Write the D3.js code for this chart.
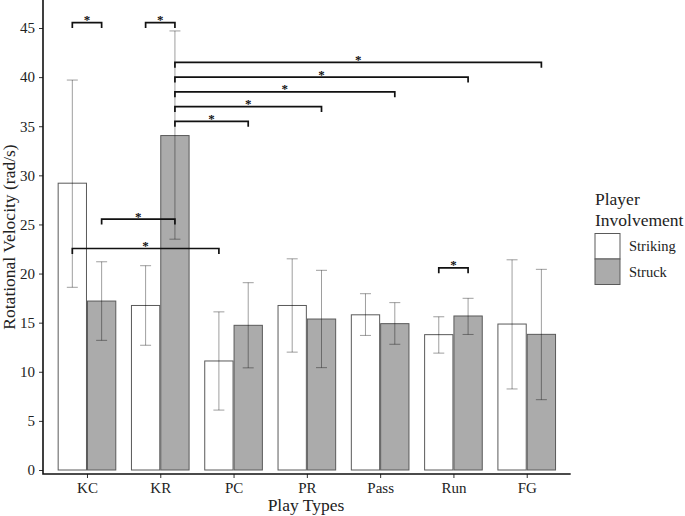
<!DOCTYPE html>
<html><head><meta charset="utf-8">
<script src="https://cdn.jsdelivr.net/npm/d3@7"></script>
<style>body{margin:0;background:#fff}svg{display:block}text{font-family:"Liberation Serif","Times New Roman",serif;fill:#222}</style>
</head><body><svg id="c" width="685" height="516"></svg>
<script>
const categories = ["KC","KR","PC","PR","Pass","Run","FG"];
const groups = ["Striking","Struck"];
const striking = [29.2, 16.75, 11.1, 16.75, 15.8, 13.78, 14.86];
const strikingLo = [18.6, 12.7, 6.1, 12.0, 13.7, 11.9, 8.25];
const strikingHi = [39.7, 20.8, 16.1, 21.5, 17.95, 15.6, 21.4];
const struck = [17.2, 34.05, 14.73, 15.37, 14.9, 15.68, 13.81];
const struckLo = [13.2, 23.5, 10.4, 10.42, 12.8, 13.8, 7.16];
const struckHi = [21.2, 44.7, 19.07, 20.33, 17.04, 17.48, 20.43];
const yTicks = [0,5,10,15,20,25,30,35,40,45];
// significance brackets: [fromCat, fromGroup, toCat, toGroup, height]
const brackets = [
  ["KC","Striking","KC","Struck",45.55],
  ["KR","Striking","KR","Struck",45.55],
  ["KR","Struck","PC","Struck",35.5],
  ["KR","Struck","PR","Struck",37.0],
  ["KR","Struck","Pass","Struck",38.5],
  ["KR","Struck","Run","Struck",40.0],
  ["KR","Struck","FG","Struck",41.5],
  ["KC","Struck","KR","Struck",25.55],
  ["KC","Striking","PC","Striking",22.55],
  ["Run","Striking","Run","Struck",20.57]
];

const svg = d3.select("#c");
const pLeft = 43, pRight = 570.7, pBottom = 474, pTop = 0;
const x = d3.scalePoint().domain(categories).range([pLeft, pRight]).padding(0.6);
const step = x.step();
const xg = d3.scaleBand().domain(groups).range([-0.4*step, 0.4*step]);
const y = d3.scaleLinear().domain([0,45]).range([470,28]);
const fill = d3.scaleOrdinal().domain(groups).range(["#ffffff","#ababab"]);

const rows = [];
categories.forEach((c,i)=>{
  rows.push({c, g:"Striking", v:striking[i], lo:strikingLo[i], hi:strikingHi[i]});
  rows.push({c, g:"Struck", v:struck[i], lo:struckLo[i], hi:struckHi[i]});
});

// bars
svg.append("g").selectAll("rect").data(rows).join("rect")
  .attr("x", d=>x(d.c)+xg(d.g)+0.5)
  .attr("width", xg.bandwidth()-1)
  .attr("y", d=>y(d.v))
  .attr("height", d=>y(0)-y(d.v))
  .attr("fill", d=>fill(d.g))
  .attr("stroke", "#5a5a5a").attr("stroke-width", 1);

// error bars
const cx = d=>x(d.c)+xg(d.g)+xg.bandwidth()/2;
const eb = svg.append("g").attr("stroke","rgba(0,0,0,0.38)").attr("stroke-width",1).attr("fill","none");
rows.forEach(d=>{
  const X = cx(d), cw = 5.5;
  eb.append("path").attr("d",
    `M${X-cw},${y(d.hi)}H${X+cw}M${X},${y(d.hi)}V${y(d.lo)}M${X-cw},${y(d.lo)}H${X+cw}`);
});

// axes
const yAxis = svg.append("g").attr("transform",`translate(${pLeft},0)`)
  .call(d3.axisLeft(y).tickValues(yTicks).tickSize(4).tickPadding(4));
yAxis.select(".domain").remove();
yAxis.selectAll("line").attr("stroke","#333");
yAxis.selectAll("text").attr("font-size",15).attr("fill","#333").style("font-family","Liberation Serif, serif");
const xAxis = svg.append("g").attr("transform",`translate(0,${pBottom})`)
  .call(d3.axisBottom(x).tickSize(4).tickPadding(4));
xAxis.select(".domain").remove();
xAxis.selectAll("line").attr("stroke","#333");
xAxis.selectAll("text").attr("font-size",15).attr("fill","#333").style("font-family","Liberation Serif, serif");
svg.append("path").attr("d",`M${pLeft},${pTop}V${pBottom}H${pRight}`).attr("fill","none").attr("stroke","#111").attr("stroke-width",1.6);

// brackets
const bg = svg.append("g");
brackets.forEach(b=>{
  const x1 = x(b[0])+xg(b[1])+xg.bandwidth()/2;
  const x2 = x(b[2])+xg(b[3])+xg.bandwidth()/2;
  const h = y(b[4]), tb = y(b[4]-0.55);
  bg.append("path").attr("d",`M${x1},${tb}V${h}H${x2}V${tb}`)
    .attr("fill","none").attr("stroke","#111").attr("stroke-width",1.7);
  bg.append("text").attr("x",(x1+x2)/2).attr("y",h+1.5).attr("text-anchor","middle")
    .attr("font-size",13).attr("font-weight","bold").style("fill","#111").text("*");
});

// titles
svg.append("text").attr("x",306).attr("y",510.5).attr("text-anchor","middle").attr("font-size",17.5).text("Play Types");
svg.append("text").attr("transform","translate(15,237) rotate(-90)").attr("text-anchor","middle").attr("font-size",17.5).text("Rotational Velocity (rad/s)");

// legend
const lg = svg.append("g");
lg.append("text").attr("x",595).attr("y",205).attr("font-size",17.5).text("Player");
lg.append("text").attr("x",595).attr("y",225.5).attr("font-size",17.5).text("Involvement");
groups.forEach((g,i)=>{
  lg.append("rect").attr("x",595).attr("y",233.5+i*25.5).attr("width",25).attr("height",25.5)
    .attr("fill",fill(g)).attr("stroke","#5a5a5a").attr("stroke-width",1);
  lg.append("text").attr("x",629).attr("y",246+i*25.5).attr("dy","0.35em").attr("font-size",14.5).text(g);
});
</script></body></html>
